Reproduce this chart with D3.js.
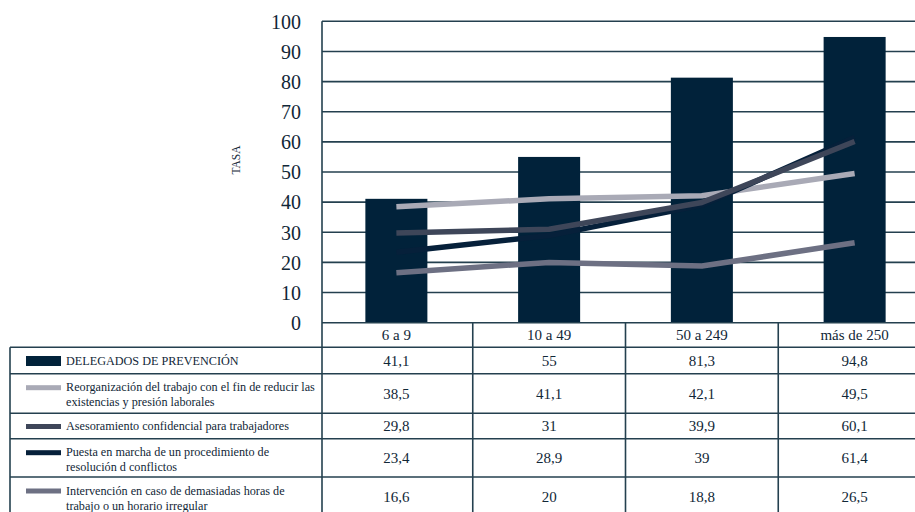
<!DOCTYPE html>
<html>
<head>
<meta charset="utf-8">
<script src="https://cdn.jsdelivr.net/npm/d3@7"></script>
<style>
  html, body { margin: 0; padding: 0; background: #ffffff; }
  text { font-family: 'Liberation Serif'; }
</style>
</head>
<body>
<svg id="chart" width="915" height="512"></svg>
<script>
// ---------------- DATA ----------------
const categories = ["6 a 9", "10 a 49", "50 a 249", "más de 250"];
const delegados = [41.1, 55, 81.3, 94.8];
const reorganizacion = [38.5, 41.1, 42.1, 49.5];
const asesoramiento = [29.8, 31, 39.9, 60.1];
const puesta = [23.4, 28.9, 39, 61.4];
const intervencion = [16.6, 20, 18.8, 26.5];
const yTicks = [0, 10, 20, 30, 40, 50, 60, 70, 80, 90, 100];
const yTitle = "TASA";
const seriesLabels = [
  ["DELEGADOS DE PREVENCIÓN"],
  ["Reorganización del trabajo con el fin de reducir las", "existencias y presión laborales"],
  ["Asesoramiento confidencial para trabajadores"],
  ["Puesta en marcha de un procedimiento de", "resolución d conflictos"],
  ["Intervención en caso de demasiadas horas de", "trabajo o un horario irregular"]
];

// ---------------- STYLE / LAYOUT ----------------
const FONT = "'Liberation Serif'";
const textColor = "#112737";
const barColor = "#01223a";
const lineColors = ["#a9aab6", "#3e4659", "#06203a", "#6d7083"];
const gridColor = "#24404f";
const W = 915, H = 512;
const plotLeft = 322, plotRight = 931;
const yTop = 21.3, yBottom = 322.7;
const rowEdges = [322.7, 347.3, 373.7, 413.3, 438.7, 477, 516];
const tableLeft = 10;

const svg = d3.select("#chart");

const y = d3.scaleLinear().domain([0, 100]).range([yBottom, yTop]);
const xCol = d3.scaleBand().domain(categories).range([320, plotRight]).padding(0);
const xBar = d3.scaleBand().domain(categories).range([320, plotRight])
  .paddingInner(0.594).paddingOuter(0.297);
const xMid = c => xCol(c) + xCol.bandwidth() / 2;

// gridlines
svg.append("g").selectAll("line").data(yTicks.filter(t => t > 0)).join("line")
  .attr("x1", plotLeft).attr("x2", W)
  .attr("y1", d => y(d)).attr("y2", d => y(d))
  .attr("stroke", gridColor).attr("stroke-width", 1.6);

// y axis labels
const yAxis = d3.axisLeft(y).tickValues(yTicks).tickSize(0).tickPadding(0);
const gAxis = svg.append("g").attr("transform", "translate(301,0)").call(yAxis);
gAxis.attr("font-family", null).attr("font-size", null);
gAxis.select(".domain").remove();
gAxis.selectAll("text")
  .style("font-family", FONT)
  .style("font-size", "20px").attr("fill", textColor).attr("dy", "0.34em");

// y title
svg.append("text")
  .attr("transform", "translate(240,160) rotate(-90)")
  .attr("text-anchor", "middle")
  .style("font-family", FONT).style("font-size", "11.5px").attr("fill", textColor)
  .text(yTitle);

// bars
svg.append("g").selectAll("rect").data(categories).join("rect")
  .attr("x", d => xBar(d)).attr("width", xBar.bandwidth())
  .attr("y", (d, i) => y(delegados[i]))
  .attr("height", (d, i) => y(0) - y(delegados[i]))
  .attr("fill", barColor);

// lines
const lineSeries = [reorganizacion, asesoramiento, puesta, intervencion];
const lineGen = d3.line().x((d, i) => xMid(categories[i])).y(d => y(d));
const drawOrder = [0, 3, 2, 1];
drawOrder.forEach(k => {
  svg.append("path").datum(lineSeries[k])
    .attr("d", lineGen)
    .attr("fill", "none")
    .attr("stroke", lineColors[k])
    .attr("stroke-width", 5.5)
    .attr("stroke-linejoin", "round");
});

// ---------------- TABLE ----------------
const tbl = svg.append("g").attr("stroke", gridColor).attr("stroke-width", 1.6);
tbl.append("line").attr("x1", plotLeft).attr("x2", W)
  .attr("y1", rowEdges[0]).attr("y2", rowEdges[0]);
tbl.selectAll("line.h").data(rowEdges.slice(1)).join("line").attr("class", "h")
  .attr("x1", tableLeft).attr("x2", W)
  .attr("y1", d => d).attr("y2", d => d);
tbl.append("line").attr("x1", tableLeft).attr("x2", tableLeft)
  .attr("y1", rowEdges[1]).attr("y2", H);
tbl.append("line").attr("x1", plotLeft).attr("x2", plotLeft)
  .attr("y1", yTop).attr("y2", H);
tbl.selectAll("line.v").data(categories.slice(1)).join("line").attr("class", "v")
  .attr("x1", d => xCol(d)).attr("x2", d => xCol(d))
  .attr("y1", rowEdges[0]).attr("y2", H);

// header labels
svg.append("g").selectAll("text").data(categories).join("text")
  .attr("x", d => xMid(d)).attr("y", (rowEdges[0] + rowEdges[1]) / 2)
  .attr("dy", "0.35em").attr("text-anchor", "middle")
  .style("font-family", FONT).style("font-size", "15px").attr("fill", textColor)
  .text(d => d);

// value cells
const allSeries = [delegados, reorganizacion, asesoramiento, puesta, intervencion];
const fmt = v => String(v).replace(".", ",");
allSeries.forEach((vals, r) => {
  const cy = (rowEdges[r + 1] + rowEdges[r + 2]) / 2;
  svg.append("g").selectAll("text").data(vals).join("text")
    .attr("x", (d, i) => xMid(categories[i])).attr("y", cy)
    .attr("dy", "0.35em").attr("text-anchor", "middle")
    .style("font-family", FONT).style("font-size", "15px").attr("fill", textColor)
    .text(d => fmt(d));
});

// legend cells
seriesLabels.forEach((lines, r) => {
  const top = rowEdges[r + 1], bot = rowEdges[r + 2];
  const lh = 15;
  const firstY = lines.length === 1 ? (top + bot) / 2 : top + 13.5;
  if (r === 0) {
    svg.append("rect").attr("x", 26).attr("width", 35)
      .attr("y", firstY - 4.5).attr("height", 10).attr("fill", barColor);
  } else {
    svg.append("rect").attr("x", 26).attr("width", 35)
      .attr("y", firstY - 2).attr("height", 5).attr("fill", lineColors[r - 1]);
  }
  const t = svg.append("text")
    .style("font-family", FONT).style("font-size", "12.2px").attr("fill", textColor);
  lines.forEach((ln, j) => {
    t.append("tspan").attr("x", 66).attr("y", firstY + j * lh).attr("dy", "0.35em").text(ln);
  });
});
</script>
</body>
</html>
